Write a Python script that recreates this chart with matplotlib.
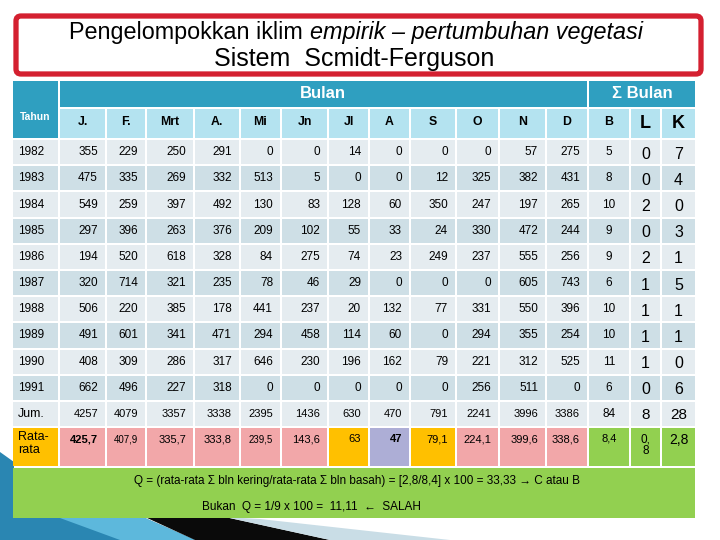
import matplotlib
matplotlib.use('Agg')
import matplotlib.pyplot as plt
from matplotlib.patches import Rectangle, FancyBboxPatch, Polygon

plt.rcParams['font.family'] = ['Liberation Sans', 'DejaVu Sans']

# data
months = ['J.', 'F.', 'Mrt', 'A.', 'Mi', 'Jn', 'Jl', 'A', 'S', 'O', 'N', 'D']
years = [1982, 1983, 1984, 1985, 1986, 1987, 1988, 1989, 1990, 1991]
rain_1982 = [355, 229, 250, 291, 0, 0, 14, 0, 0, 0, 57, 275]
rain_1983 = [475, 335, 269, 332, 513, 5, 0, 0, 12, 325, 382, 431]
rain_1984 = [549, 259, 397, 492, 130, 83, 128, 60, 350, 247, 197, 265]
rain_1985 = [297, 396, 263, 376, 209, 102, 55, 33, 24, 330, 472, 244]
rain_1986 = [194, 520, 618, 328, 84, 275, 74, 23, 249, 237, 555, 256]
rain_1987 = [320, 714, 321, 235, 78, 46, 29, 0, 0, 0, 605, 743]
rain_1988 = [506, 220, 385, 178, 441, 237, 20, 132, 77, 331, 550, 396]
rain_1989 = [491, 601, 341, 471, 294, 458, 114, 60, 0, 294, 355, 254]
rain_1990 = [408, 309, 286, 317, 646, 230, 196, 162, 79, 221, 312, 525]
rain_1991 = [662, 496, 227, 318, 0, 0, 0, 0, 0, 256, 511, 0]
rain = [rain_1982, rain_1983, rain_1984, rain_1985, rain_1986,
        rain_1987, rain_1988, rain_1989, rain_1990, rain_1991]
bulan_b = [5, 8, 10, 9, 9, 6, 10, 10, 11, 6]
bulan_l = [0, 0, 2, 0, 2, 1, 1, 1, 1, 0]
bulan_k = [7, 4, 0, 3, 1, 5, 1, 1, 0, 6]
jumlah = [4257, 4079, 3357, 3338, 2395, 1436, 630, 470, 791, 2241, 3996, 3386]
jumlah_blk = [84, 8, 28]
rata = ['425,7', '407,9', '335,7', '333,8', '239,5', '143,6', '63', '47',
        '79,1', '224,1', '399,6', '338,6']
rata_blk = ['8,4', '0,\n8', '2,8']

# colours
teal = '#2f9fc0'
light_hdr = '#b4e3f0'
row_a = '#e5ecf0'
row_b = '#cedfe6'
pink = '#f2a7a9'
gold = '#ffc000'
lav = '#adaed6'
green = '#92d050'
rata_col = [pink] * 6 + [gold, lav, gold] + [pink] * 3

fig = plt.figure(figsize=(7.2, 5.4), dpi=100)
ax = fig.add_axes([0, 0, 1, 1])
ax.set_xlim(0, 720)
ax.set_ylim(540, 0)
ax.axis('off')

# background decoration bottom-left
ax.add_patch(Polygon([(0, 452), (14, 462), (14, 518), (145, 518), (195, 540), (0, 540)],
                     closed=True, fc='#2a86b2', ec='none'))
ax.add_patch(Polygon([(60, 518), (145, 518), (195, 540), (120, 540)],
                     closed=True, fc='#5db8dc', ec='none'))
ax.add_patch(Polygon([(145, 517), (225, 517), (330, 540), (195, 540)],
                     closed=True, fc='#0a0a0a', ec='none'))
ax.add_patch(Polygon([(225, 517), (260, 519), (450, 540), (330, 540)],
                     closed=True, fc='#c9dde6', ec='none'))

# title box
ax.add_patch(FancyBboxPatch((16, 16), 685, 58, boxstyle='round,pad=0,rounding_size=5',
                            fc='white', ec='#d42030', lw=3.8))
parts = [('Pengelompokkan iklim ', 'normal'), ('empirik \u2013 pertumbuhan vegetasi', 'italic')]
fig.canvas.draw()
r = fig.canvas.get_renderer()
txts = []
for s, st in parts:
    t = ax.text(0, 32, s, fontsize=16.8, style=st, va='center', ha='left')
    txts.append(t)
widths = [t.get_window_extent(renderer=r).width for t in txts]
x = 356 - sum(widths) / 2
for t, w in zip(txts, widths):
    t.set_x(x)
    x += w
ax.text(354, 59, 'Sistem  Scmidt-Ferguson', fontsize=18, ha='center', va='center')

# column layout
col_l = [13, 60, 107, 147, 195, 241, 282, 329, 370, 411, 457, 500, 547, 589, 631, 662]
col_r = [58, 105, 145, 193, 239, 280, 327, 368, 409, 455, 498, 545, 587, 629, 660, 695]
pitch = 26.2
row_top0 = 140

def cell(i, y0, y1, fc):
    ax.add_patch(Rectangle((col_l[i], y0), col_r[i] - col_l[i], y1 - y0, fc=fc, ec='none'))

narrow = ['Liberation Sans Narrow', 'Liberation Sans', 'DejaVu Sans']

# header
ax.add_patch(Rectangle((13, 81), 45, 57, fc=teal, ec='none'))
ax.add_patch(Rectangle((60, 81), 527, 26, fc=teal, ec='none'))
ax.add_patch(Rectangle((589, 81), 106, 26, fc=teal, ec='none'))
ax.text(35.5, 117, 'Tahun', color='white', fontsize=7.5, weight='bold', ha='center', va='center',
        family=narrow)
ax.text(323, 94, 'Bulan', color='white', fontsize=12, weight='bold', ha='center', va='center',
        family=narrow)
ax.text(642, 93, '\u03a3 Bulan', color='white', fontsize=12, weight='bold', ha='center', va='center',
        family=narrow)
sub = months + ['B', 'L', 'K']
for j, lab in enumerate(sub):
    cell(j + 1, 109, 138, light_hdr)
    big = lab in ('L', 'K')
    ax.text((col_l[j + 1] + col_r[j + 1]) / 2, 124 if big else 122, lab,
            fontsize=13 if big else 8.8, weight='bold', ha='center', va='center')

# data rows
for i, yr in enumerate(years):
    y0 = row_top0 + i * pitch
    y1 = y0 + pitch - 2
    yc = (y0 + y1) / 2
    fc = row_a if i % 2 == 0 else row_b
    for j in range(16):
        cell(j, y0, y1, fc)
    ax.text(18, yc, str(yr), fontsize=8.5, ha='left', va='center')
    for j, v in enumerate(rain[i]):
        ax.text(col_r[j + 1] - 7, yc, str(v), fontsize=8.5, ha='right', va='center')
    ax.text(609, yc, str(bulan_b[i]), fontsize=8.5, ha='center', va='center')
    ax.text(645.5, yc + 2, str(bulan_l[i]), fontsize=11.5, ha='center', va='center')
    ax.text(678.5, yc + 2, str(bulan_k[i]), fontsize=11.5, ha='center', va='center')

# Jum row
y0 = row_top0 + 10 * pitch
y1 = y0 + pitch - 2
yc = (y0 + y1) / 2
for j in range(16):
    cell(j, y0, y1, row_a)
ax.text(18, yc, 'Jum.', fontsize=9, ha='left', va='center')
for j, v in enumerate(jumlah):
    ax.text(col_r[j + 1] - 7, yc, str(v), fontsize=8, ha='right', va='center')
ax.text(609, yc, str(jumlah_blk[0]), fontsize=8.5, ha='center', va='center')
ax.text(645.5, yc + 1, str(jumlah_blk[1]), fontsize=11, ha='center', va='center')
ax.text(678.5, yc + 1, str(jumlah_blk[2]), fontsize=11, ha='center', va='center')

# Rata-rata row
y0 = y1 + 2
y1 = 466
cell(0, y0, y1, gold)
ax.text(18, y0 + 3, 'Rata-\nrata', fontsize=9, ha='left', va='top', linespacing=1.1)
for j, s in enumerate(rata):
    cell(j + 1, y0, y1, rata_col[j])
    bold = s in ('425,7', '47')
    small = s in ('407,9', '239,5')
    ax.text(col_r[j + 1] - 7, y0 + 6, s, fontsize=7 if small else 8,
            weight='bold' if bold else 'normal', ha='right', va='top')
for k, s in enumerate(rata_blk):
    cell(13 + k, y0, y1, green)
    ax.text((col_l[13 + k] + col_r[13 + k]) / 2, y0 + 5, s,
            fontsize=8 if k == 0 else 10 if k == 2 else 8.5, ha='center', va='top',
            linespacing=1.0)

# bottom note
ax.add_patch(Rectangle((13, 468), 682, 50, fc=green, ec='none'))
ax.text(357, 481, 'Q = (rata-rata \u03a3 bln kering/rata-rata \u03a3 bln basah) = [2,8/8,4] x 100 = 33,33 \u2192 C atau B',
        fontsize=8.5, ha='center', va='center', family=narrow)
ax.text(311, 507, 'Bukan  Q = 1/9 x 100 =  11,11  \u2190  SALAH',
        fontsize=8.5, ha='center', va='center', family=narrow)

fig.savefig('out.png', dpi=100)
